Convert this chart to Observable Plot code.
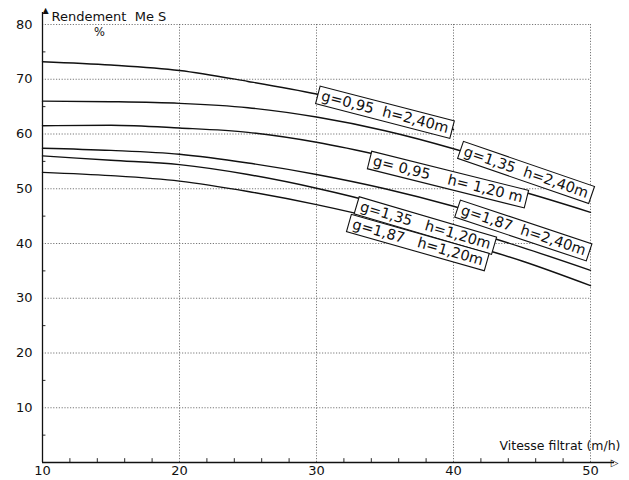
<!DOCTYPE html>
<html>
<head>
<meta charset="utf-8">
<script src="https://cdn.jsdelivr.net/npm/d3@7"></script>
<script src="https://cdn.jsdelivr.net/npm/@observablehq/plot@0.6"></script>
<style>
  html, body { margin: 0; padding: 0; background: #fff; }
  #chart text.boxed { white-space: pre; }
</style>
</head>
<body>
<div id="chart"></div>
<script>
// ---- data ----
const speeds = [10, 15, 20, 25, 30, 35, 40, 45, 50];          // Vitesse filtrat (m/h)
const seriesNames = ["g=0,95 h=2,40", "g=1,35 h=2,40", "g=0,95 h=1,20", "g=1,87 h=2,40", "g=1,35 h=1,20", "g=1,87 h=1,20"];
const g095h240 = [73.2, 72.6, 71.6, 69.6, 67.3, 64.3, 60.8, null, null];
const g135h240 = [66.0, 65.9, 65.6, 64.8, 63.1, 60.6, 57.3, 53.3, 49.0];
const g095h120 = [61.5, 61.6, 61.1, 60.3, 58.5, 55.9, 52.8, 49.5, 45.7];
const g187h240 = [57.4, 57.0, 56.3, 54.7, 52.6, 50.0, 46.8, 43.0, 39.0];
const g135h120 = [56.0, 55.2, 54.4, 52.6, 50.1, 47.0, 43.2, 39.3, 35.1];
const g187h120 = [53.0, 52.4, 51.4, 49.5, 47.1, 44.2, 40.6, 36.8, 32.3];
const seriesValues = [g095h240, g135h240, g095h120, g187h240, g135h120, g187h120];

// curve labels (boxed, placed along the curves)
const labelText  = ["g=0,95  h=2,40m", "g=1,35  h=2,40m", "g= 0,95    h= 1,20 m", "g=1,87  h=2,40m", "g=1,35   h=1,20m", "g=1,87   h=1,20m"];
const labelX     = [35.0, 45.3, 39.6, 45.1, 37.95, 37.4];
const labelY     = [64.0, 53.0, 51.7, 42.4, 43.3, 40.2];
const labelAngle = [14.5, 19, 14, 18.4, 16.4, 15.8];

const xTicks = [10, 20, 30, 40, 50];
const yTicks = [10, 20, 30, 40, 50, 60, 70, 80];
const xMinor = [12, 14, 16, 18, 22, 24, 26, 28, 32, 34, 36, 38, 42, 44, 46, 48];
const yMinor = [5, 15, 25, 35, 45, 55, 65, 75];
const yTitle = "Rendement  Me S";
const yUnit = "%";
const xTitle = "Vitesse filtrat (m/h)";

// ---- tidy table ----
const rows = [];
seriesValues.forEach((vals, i) => vals.forEach((v, j) => {
  if (v != null) rows.push({s: seriesNames[i], x: speeds[j], y: v});
}));
const labels = labelText.map((t, i) => ({t, x: labelX[i], y: labelY[i], a: labelAngle[i]}));

const font = "DejaVu Sans, sans-serif";
const gridStyle = {stroke: "#555", strokeWidth: 0.8, strokeDasharray: "1.2,1.6"};

const chart = Plot.plot({
  width: 629,
  height: 480,
  marginLeft: 42,
  marginRight: 39,
  marginTop: 24,
  marginBottom: 18,
  style: {fontFamily: font, fontSize: "13px", color: "#111", background: "#fff"},
  x: {domain: [10, 50], ticks: xTicks, tickSize: 0, tickPadding: 3, label: null, tickFormat: d => String(d)},
  y: {domain: [0, 80], ticks: yTicks, tickSize: 0, tickPadding: 10, label: null, tickFormat: d => String(d)},
  marks: [
    Plot.ruleY(yTicks, {...gridStyle}),
    Plot.ruleX(xTicks.filter(d => d > 10), {...gridStyle}),
    Plot.ruleX(xMinor, {y1: 0, y2: 0.7, stroke: "#111", strokeWidth: 0.9}),
    Plot.ruleY(yMinor, {x1: 10, x2: 10.25, stroke: "#111", strokeWidth: 0.9}),
    Plot.ruleX([10], {stroke: "#111", strokeWidth: 1.3, insetTop: -12}),
    Plot.ruleY([0], {stroke: "#111", strokeWidth: 1.3, insetRight: -24}),
    Plot.text(["▲"], {frameAnchor: "top-left", lineAnchor: "middle", dy: -14, fontSize: 8, fill: "#111"}),
    Plot.text(["▷"], {frameAnchor: "bottom-right", lineAnchor: "middle", dx: 28, dy: 0, fontSize: 10, fill: "#111"}),
    Plot.line(rows, {x: "x", y: "y", z: "s", curve: "monotone-x", stroke: "#111", strokeWidth: 1.4}),
    Plot.text(labels, {x: "x", y: "y", text: "t", rotate: "a", fontSize: 14.5, fill: "#111"}),
    Plot.text([yTitle], {frameAnchor: "top-left", lineAnchor: "middle", dx: 9, dy: -8, textAnchor: "start", fontSize: 13, fill: "#111"}),
    Plot.text([yUnit], {frameAnchor: "top-left", lineAnchor: "middle", dx: 57, dy: 8, textAnchor: "middle", fontSize: 11.5, fill: "#111"}),
    Plot.text([xTitle], {frameAnchor: "bottom-right", lineAnchor: "middle", dx: 30, dy: -17, textAnchor: "end", fontSize: 12.5, fill: "#111"})
  ]
});

document.getElementById("chart").appendChild(chart);

// white boxes with black outline behind each curve label
const ns = "http://www.w3.org/2000/svg";
chart.querySelectorAll("text").forEach(t => {
  if (!labelText.includes(t.textContent)) return;
  t.setAttribute("class", "boxed");
  t.style.whiteSpace = "pre";
  const b = t.getBBox();
  const r = document.createElementNS(ns, "rect");
  r.setAttribute("x", b.x - 4);
  r.setAttribute("y", b.y - 0.5);
  r.setAttribute("width", b.width + 8);
  r.setAttribute("height", b.height + 2);
  r.setAttribute("fill", "#fff");
  r.setAttribute("stroke", "#111");
  r.setAttribute("stroke-width", "1.1");
  const tr = t.getAttribute("transform");
  if (tr) r.setAttribute("transform", tr);
  t.parentNode.insertBefore(r, t);
});
</script>
</body>
</html>
